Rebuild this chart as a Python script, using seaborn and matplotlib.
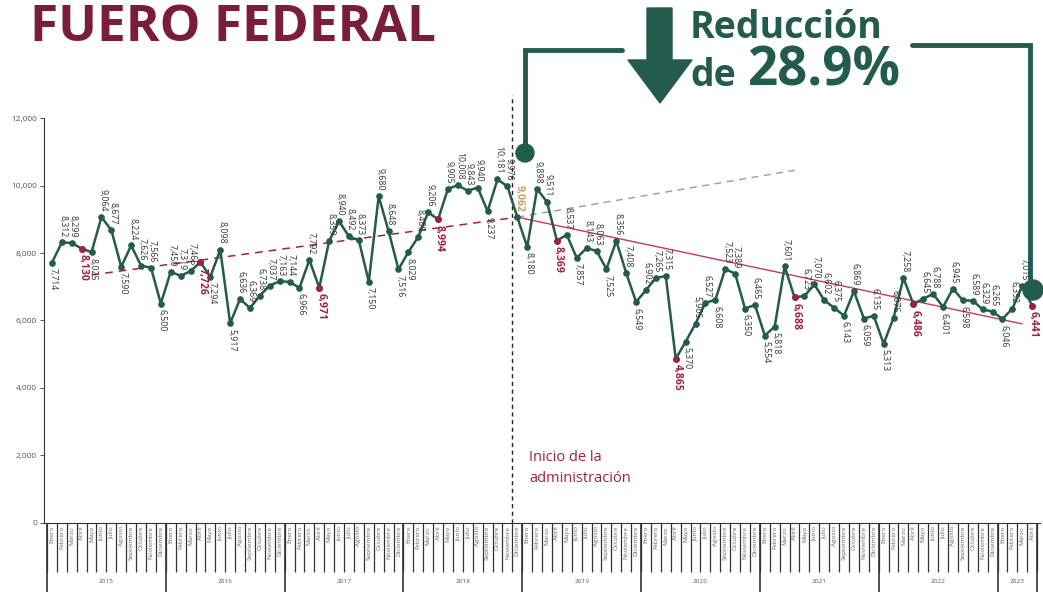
import numpy as np
import pandas as pd
import seaborn as sns
import matplotlib.pyplot as plt
from matplotlib.patches import Circle, Polygon

# --- data ---
months = ["Enero", "Febrero", "Marzo", "Abril", "Mayo", "Junio", "Julio",
          "Agosto", "Septiembre", "Octubre", "Noviembre", "Diciembre"]
years = [2015, 2016, 2017, 2018, 2019, 2020, 2021, 2022, 2023]

cases_2015 = [7714, 8312, 8299, 8130, 8025, 9064, 8677, 7590, 8224, 7626, 7566, 6500]
cases_2016 = [7450, 7319, 7466, 7726, 7294, 8098, 5917, 6636, 6369, 6738, 7037, 7163]
cases_2017 = [7144, 6966, 7792, 6971, 8359, 8940, 8492, 8373, 7150, 9680, 8648, 7516]
cases_2018 = [8029, 8480, 9206, 8994, 9905, 10008, 9843, 9940, 9237, 10181, 9976, 9062]
cases_2019 = [8180, 9898, 9511, 8369, 8537, 7857, 8143, 8063, 7525, 8356, 7408, 6549]
cases_2020 = [6902, 7265, 7315, 4865, 5370, 5905, 6527, 6608, 7523, 7389, 6350, 6465]
cases_2021 = [5554, 5818, 7601, 6688, 6723, 7070, 6602, 6375, 6143, 6869, 6059, 6135]
cases_2022 = [5313, 6076, 7258, 6486, 6645, 6788, 6401, 6945, 6598, 6589, 6329, 6265]
cases_2023 = [6046, 6352, 7015, 6441]

# months whose label sits under the point
below_idx = [0, 3, 4, 7, 11, 15, 16, 18, 25, 27, 32, 35, 36, 39, 44, 48, 51, 53,
             56, 59, 63, 64, 67, 70, 72, 73, 75, 80, 82, 84, 87, 90, 92, 96, 99]
# april of every year is highlighted, december 2018 = start of the administration
highlight_idx = [3, 15, 27, 39, 51, 63, 75, 87, 99]
start_idx = 47

# trend lines (month index, value)
trend_pre_x, trend_pre_y = [4, 47], [7350, 9062]
trend_ext_x, trend_ext_y = [47, 75], [9062, 10450]
trend_post_x, trend_post_y = [47, 98], [9062, 5900]

GREEN = "#235b4e"
MAROON = "#9f2241"
GOLD = "#c9a063"
TEXT = "#333333"

values = cases_2015 + cases_2016 + cases_2017 + cases_2018 + cases_2019 + \
    cases_2020 + cases_2021 + cases_2022 + cases_2023
idx = np.arange(len(values))
df = pd.DataFrame({"mes": idx, "casos": values})

sns.set_theme(style="white")
plt.rcParams["font.family"] = ["Open Sans", "DejaVu Sans"]

fig = plt.figure(figsize=(10.43, 5.96), dpi=100)
fig.patch.set_facecolor("white")
ax = fig.add_axes([0.0422, 0.1225, 0.955, 0.6795])
ax.set_facecolor("none")

# trend lines
ax.plot(trend_pre_x, trend_pre_y, color=MAROON, lw=1.1, ls=(0, (5, 4)), zorder=1)
ax.plot(trend_ext_x, trend_ext_y, color="#9a9a9a", lw=1.0, ls=(0, (5, 4)), zorder=1)
ax.plot(trend_post_x, trend_post_y, color="#c33a5c", lw=1.0, zorder=1)

sns.lineplot(data=df, x="mes", y="casos", ax=ax, color=GREEN, lw=1.8,
             marker="o", markersize=4, markeredgecolor=GREEN, zorder=3)
sns.scatterplot(data=df.iloc[highlight_idx], x="mes", y="casos", ax=ax,
                color=MAROON, s=20, edgecolor=MAROON, zorder=4, legend=False)

# data labels
for i, v in zip(idx, values):
    below = i in below_idx
    if i in highlight_idx:
        color, size, weight = MAROON, 7.5, "bold"
    elif i == start_idx:
        color, size, weight = GOLD, 7.5, "bold"
    else:
        color, size, weight = TEXT, 6.3, "normal"
    ax.annotate(f"{v:,}", (i, v), xytext=(1, -4 if below else 4),
                textcoords="offset points", rotation=-90,
                ha="center", va="top" if below else "bottom",
                fontsize=size, color=color, fontweight=weight, zorder=5)

# start of administration
ax.axvline(46.5, ymin=0, ymax=1.057, color="#222222", lw=1, ls=(0, (3, 2.5)),
           clip_on=False, zorder=2)
ax.text(48.2, 2150, "Inicio de la\nadministración", color=MAROON, fontsize=10.5,
        va="top", ha="left", linespacing=1.5)

# axes styling
ax.set_xlim(-0.8, 99.8)
ax.set_ylim(0, 12000)
ax.set_yticks(range(0, 12001, 2000))
ax.set_yticklabels([f"{t:,}" for t in range(0, 12001, 2000)], fontsize=6, color="#555555")
ax.tick_params(axis="y", length=3, width=0.6, color="#333333", pad=2, left=True)
ax.set_xticks(idx)
ax.set_xticklabels([months[i % 12] for i in idx], rotation=90, fontsize=4.6, color="#666666")
ax.set_xticks(np.arange(-0.5, 100, 1), minor=True)
ax.tick_params(axis="x", which="major", length=0, pad=2)
ax.tick_params(axis="x", which="minor", length=35, width=0.9, color="#333333",
               direction="out", bottom=True)
ax.set_xlabel("")
ax.set_ylabel("")
sns.despine(ax=ax)
for side in ["left", "bottom"]:
    ax.spines[side].set_color("#333333")
    ax.spines[side].set_linewidth(0.8)

bounds = [-0.5] + [12 * k + 11.5 for k in range(8)] + [99.5]
ax.vlines(bounds, -0.17, 0, transform=ax.get_xaxis_transform(), color="#333333",
          lw=1.2, clip_on=False)
for k, yr in enumerate(years):
    mid = (bounds[k] + bounds[k + 1]) / 2
    ax.text(mid, -0.145, str(yr), transform=ax.get_xaxis_transform(),
            ha="center", va="center", fontsize=4.6, color="#555555")

# decorations in pixel space
ov = fig.add_axes([0, 0, 1, 1])
ov.set_xlim(0, 1043)
ov.set_ylim(596, 0)
ov.set_axis_off()

ov.text(30, 41, "FUERO FEDERAL", color="#7a1d3b", fontsize=37, fontweight="bold",
        va="baseline", ha="left")
ov.text(690, 38, "Reducción", color=GREEN, fontsize=27, fontweight="bold",
        va="baseline", ha="left")
ov.text(690, 86, "de", color=GREEN, fontsize=27, fontweight="bold",
        va="baseline", ha="left")
ov.text(748, 86, "28.9%", color=GREEN, fontsize=38, fontweight="bold",
        va="baseline", ha="left")

arrow = Polygon([(647, 8), (672, 8), (672, 60), (692, 60), (660, 103),
                 (628, 60), (647, 60)], closed=True, color=GREEN)
ov.add_patch(arrow)

ov.plot([525, 525, 622], [150, 50, 50], color=GREEN, lw=3.5, solid_joinstyle="miter")
ov.plot([912, 1030, 1030], [45, 45, 288], color=GREEN, lw=3.5, solid_joinstyle="miter")
ov.add_patch(Circle((525, 153), 9, color=GREEN))
ov.add_patch(Circle((1033, 290), 10, color=GREEN))

fig.savefig("out.png", dpi=100)
